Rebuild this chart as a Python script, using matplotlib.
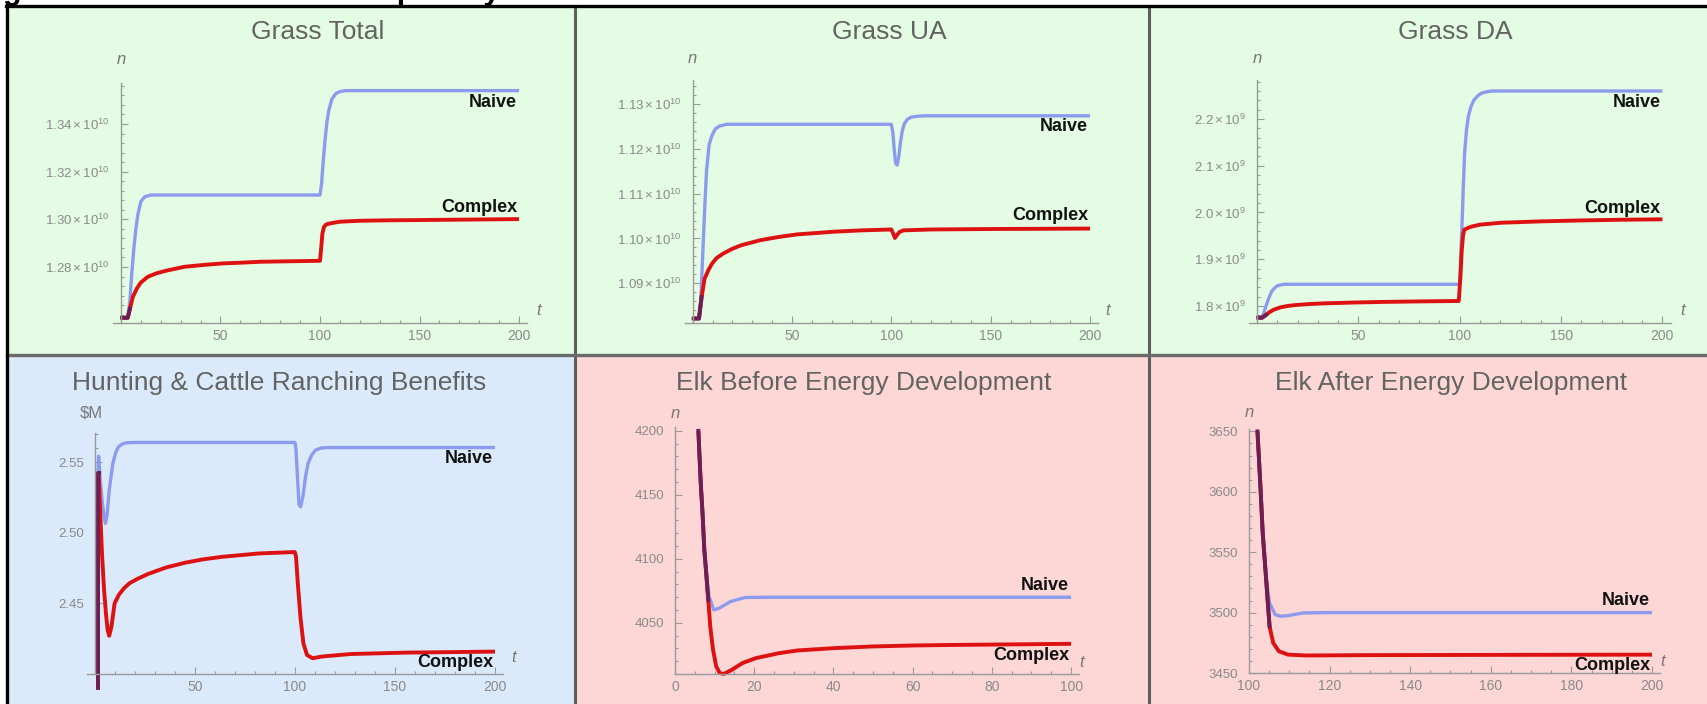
import matplotlib.pyplot as plt
from matplotlib.lines import Line2D
from matplotlib.patches import Rectangle
from matplotlib.ticker import FixedLocator, MultipleLocator, FuncFormatter

plt.rcParams['font.family'] = ['Liberation Sans', 'DejaVu Sans']
plt.rcParams['mathtext.fontset'] = 'custom'
plt.rcParams['mathtext.rm'] = 'Liberation Sans'
plt.rcParams['mathtext.it'] = 'Liberation Sans:italic'

W, H = 1707, 704

# ---------------- data ----------------
titles = ['Grass Total', 'Grass UA', 'Grass DA',
          'Hunting & Cattle Ranching Benefits',
          'Elk Before Energy Development', 'Elk After Energy Development']

# Grass Total, units of 1e10
total_shared_t = [0.5, 3.4]
total_shared_v = [1.2587, 1.2587]
total_naive_t = [4.5, 5.5, 6.5, 7.5, 8.5, 10, 12, 15, 100, 100.8, 101.5, 102.5, 103.5,
                 104.5, 106, 108, 110, 113, 200]
total_naive_v = [1.266, 1.278, 1.288, 1.296, 1.302, 1.3075, 1.3095, 1.3102, 1.3102, 1.315,
                 1.323, 1.333, 1.341, 1.346, 1.3505, 1.3528, 1.3536, 1.354, 1.354]
total_complex_t = [4.5, 6, 8, 10, 13.5, 18, 23, 32, 42, 51, 60, 70, 85, 100, 100.6, 101.2,
                   102, 103, 105, 110, 120, 135, 150, 175, 200]
total_complex_v = [1.2625, 1.2675, 1.2710, 1.2735, 1.2759, 1.2774, 1.2785, 1.2801, 1.2809,
                   1.2815, 1.2818, 1.2822, 1.2824, 1.2826, 1.2880, 1.2940, 1.2968, 1.2978,
                   1.2983, 1.2990, 1.2994, 1.2996, 1.2997, 1.2999, 1.3001]

# Grass UA, units of 1e10
ua_shared_t = [0.5, 3.2]
ua_shared_v = [1.0821, 1.0821]
ua_naive_t = [4.2, 5.1, 6, 7, 8.3, 9.8, 11.5, 13.5, 17, 100, 100.8, 101.5, 102.2, 103, 103.8,
              104.6, 105.5, 106.5, 108, 110, 113, 117, 200]
ua_naive_v = [1.0870, 1.0967, 1.1060, 1.1152, 1.1210, 1.1231, 1.1245, 1.1251, 1.1255, 1.1255,
              1.1235, 1.1195, 1.1168, 1.1164, 1.1185, 1.1215, 1.1240, 1.1256, 1.1266, 1.1271,
              1.1273, 1.1274, 1.1274]
ua_complex_t = [4.5, 6, 8, 9.8, 12, 15.3, 20, 24.6, 34, 43, 52.5, 62, 71, 85, 100, 101, 101.8,
                102.6, 104, 106, 120, 150, 200]
ua_complex_v = [1.0869, 1.0910, 1.0930, 1.0944, 1.0956, 1.0966, 1.0977, 1.0985, 1.0996, 1.1003,
                1.1009, 1.1012, 1.1015, 1.1018, 1.1020, 1.1010, 1.1001, 1.1006, 1.1014, 1.1018,
                1.1020, 1.1021, 1.1022]

# Grass DA, units of 1e9
da_shared_t = [0.5, 2.5]
da_shared_v = [1.775, 1.775]
da_naive_t = [4.3, 5.7, 7.1, 8.5, 9.8, 11.5, 13.4, 100, 100.5, 101.2, 101.8, 102.4, 103.3,
              104.2, 105.5, 107, 109, 110.6, 113, 116, 200]
da_naive_v = [1.7986, 1.816, 1.8306, 1.838, 1.8428, 1.845, 1.8464, 1.8464, 1.91, 1.984, 2.06,
              2.127, 2.175, 2.205, 2.226, 2.2406, 2.250, 2.255, 2.258, 2.2599, 2.2599]
da_complex_t = [4.3, 6, 7.9, 9.8, 11.6, 15, 18.9, 26, 33.5, 47, 60.8, 80, 99.5, 100.3, 101,
                101.6, 102.2, 104, 106, 110, 120, 140, 160, 180, 200]
da_complex_v = [1.7807, 1.7865, 1.7914, 1.7945, 1.7971, 1.8000, 1.8020, 1.8042, 1.8057, 1.8073,
                1.8086, 1.8098, 1.8107, 1.86, 1.92, 1.95, 1.963, 1.967, 1.970, 1.974, 1.978,
                1.981, 1.983, 1.9845, 1.9854]

# Hunting & cattle ranching benefits, $M
hunt_shared_t = [1.5, 1.5]
hunt_shared_v = [2.390, 2.542]
hunt_naive_t = [1.8, 2.5, 3.5, 4.5, 5.2, 6, 7.1, 8.9, 10.3, 11.7, 13.5, 15.4, 20, 100, 100.5,
                101.2, 102, 102.8, 104, 105.2, 106.5, 108.3, 110.2, 113, 116, 200]
hunt_naive_v = [2.5543, 2.5400, 2.5230, 2.5120, 2.5065, 2.5120, 2.5300, 2.5490, 2.5565, 2.5609,
                2.5628, 2.5637, 2.5640, 2.5640, 2.5590, 2.5400, 2.5200, 2.5183, 2.5260, 2.5390,
                2.5490, 2.5550, 2.5585, 2.5600, 2.5604, 2.5604]
hunt_complex_t = [1.8, 2.6, 3.5, 4.5, 5.5, 6.3, 7.1, 8.2, 9.8, 12, 14.5, 17.2, 21, 26.5, 35.7,
                  45, 54, 63.5, 82, 99.9, 100.5, 101.4, 102.7, 104.2, 106, 108.8, 113.4, 128,
                  156, 200]
hunt_complex_v = [2.5420, 2.5150, 2.4850, 2.4600, 2.4420, 2.4310, 2.4267, 2.4330, 2.4498,
                  2.4560, 2.4605, 2.4640, 2.4670, 2.4706, 2.4753, 2.4786, 2.4810, 2.4828,
                  2.4852, 2.4862, 2.4830, 2.4640, 2.4403, 2.4214, 2.4131, 2.4108, 2.4120,
                  2.4138, 2.4148, 2.4155]

# Elk before energy development
elkb_shared_t = [5.9, 6.5, 7.0, 7.4, 7.8]
elkb_shared_v = [4200, 4159, 4133, 4107, 4092]
elkb_naive_t = [8.6, 9.8, 11.2, 14.0, 17.7, 25, 40, 60, 80, 100]
elkb_naive_v = [4070.5, 4060, 4061.5, 4066.6, 4069.8, 4070, 4070, 4070, 4070, 4070]
elkb_complex_t = [8.4, 8.9, 9.6, 10.4, 11.3, 12.3, 14.2, 17.0, 20.4, 26.3, 31, 40.1, 49.7, 60.2,
                  70, 80.2, 90, 100]
elkb_complex_v = [4068, 4047, 4029, 4016, 4010.7, 4010, 4013, 4018.5, 4022.4, 4026.3, 4028.4,
                  4030.2, 4031.5, 4032.3, 4032.7, 4033, 4033.3, 4033.6]

# Elk after energy development
elka_shared_t = [102.1, 102.8, 103.4, 104.2]
elka_shared_v = [3650, 3607, 3566, 3530]
elka_naive_t = [105.1, 106.5, 107.8, 109.7, 113.4, 119, 140, 200]
elka_naive_v = [3508, 3498.3, 3497, 3497.5, 3499.7, 3500, 3500, 3500]
elka_complex_t = [105.1, 106, 107.4, 109.7, 114.3, 130, 160, 200]
elka_complex_v = [3488.7, 3475, 3468, 3465.2, 3464.5, 3464.8, 3465, 3465.2]

# tick values
t_ticks_200 = [50, 100, 150, 200]
t_ticks_before = [0, 20, 40, 60, 80, 100]
t_ticks_after = [100, 120, 140, 160, 180, 200]
total_yticks = [1.28, 1.30, 1.32, 1.34]
ua_yticks = [1.09, 1.10, 1.11, 1.12, 1.13]
da_yticks = [1.8, 1.9, 2.0, 2.1, 2.2]
hunt_yticks = [2.45, 2.50, 2.55]
elkb_yticks = [4050, 4100, 4150, 4200]
elka_yticks = [3450, 3500, 3550, 3600, 3650]

# ---------------- styling ----------------
GREEN, BLUE, PINK = '#e3fce3', '#dbeafb', '#fdd6d6'
NAIVE_C, COMPLEX_C, SHARED_C = '#8d9bee', '#dd1111', '#6b1f55'
AXIS_C, TICKLBL_C, TITLE_C = '#9a9a9a', '#8a8a8a', '#636363'


def fbox(x0, y0, x1, y1):
    return [x0 / W, 1 - y1 / H, (x1 - x0) / W, (y1 - y0) / H]


fig = plt.figure(figsize=(W / 100, H / 100), dpi=100)

# panel backgrounds
for (x0, y0, x1, y1), c in [((7, 6, 575, 355), GREEN), ((575, 6, 1149, 355), GREEN),
                            ((1149, 6, 1707, 355), GREEN), ((7, 355, 575, 704), BLUE),
                            ((575, 355, 1149, 704), PINK), ((1149, 355, 1707, 704), PINK)]:
    fig.patches.append(Rectangle((x0 / W, 1 - y1 / H), (x1 - x0) / W, (y1 - y0) / H,
                                 transform=fig.transFigure, color=c, zorder=-5))

# dividers and frame
for xs, ys, c, lw in [((575, 575), (6, 704), '#5e5e5e', 2.2), ((1149, 1149), (6, 704), '#5e5e5e', 2.2),
                      ((7, 1707), (355, 355), '#6a6a6a', 2.4),
                      ((7, 7), (5, 704), 'black', 2.4), ((6, 1707), (6, 6), 'black', 2.4)]:
    fig.add_artist(Line2D([x / W for x in xs], [1 - y / H for y in ys], color=c, lw=lw, zorder=-4))

# cropped heading line at the very top (only descenders visible)
fig.text(-24 / W, 1 + 1.5 / H, 'Figure 4. Results for the complex system and naive model',
         fontsize=22, fontweight='bold', color='black', va='baseline', ha='left')


def sci(exp, dec):
    return FuncFormatter(lambda v, p: rf'${v:.{dec}f}\times10^{{{exp}}}$')


panels = [
    dict(box=(113, 83, 527, 323), xlim=(-4, 204), ylim=(1.2565, 1.3572), y0=0,
         xt=t_ticks_200, xm=10, yt=total_yticks, ym=0.004, fmt=sci(10, 2),
         data=(total_shared_t, total_shared_v, total_naive_t, total_naive_v,
               total_complex_t, total_complex_v),
         title=(318, 32), ylab=('n', 0, 24), tlab=(12, 5), nlab=-12, clab=12),
    dict(box=(684.7, 80, 1098, 323), xlim=(-4, 204), ylim=(1.0811, 1.1354), y0=0,
         xt=t_ticks_200, xm=10, yt=ua_yticks, ym=0.002, fmt=sci(10, 2),
         data=(ua_shared_t, ua_shared_v, ua_naive_t, ua_naive_v, ua_complex_t, ua_complex_v),
         title=(889, 32), ylab=('n', 0, 21), tlab=(10, 5), nlab=-11, clab=13),
    dict(box=(1249, 80, 1670.5, 323), xlim=(-4, 204), ylim=(1.7636, 2.2834), y0=0,
         xt=t_ticks_200, xm=10, yt=da_yticks, ym=0.02, fmt=sci(9, 1),
         data=(da_shared_t, da_shared_v, da_naive_t, da_naive_v, da_complex_t, da_complex_v),
         title=(1455, 32), ylab=('n', 0, 21), tlab=(12, 5), nlab=-12, clab=11),
    dict(box=(87, 432.6, 503, 674), xlim=(-4, 204), ylim=(2.3996, 2.571), y0=0,
         xt=t_ticks_200, xm=10, yt=hunt_yticks, ym=0.01,
         fmt=FuncFormatter(lambda v, p: f'{v:.2f}'),
         data=(hunt_shared_t, hunt_shared_v, hunt_naive_t, hunt_naive_v,
               hunt_complex_t, hunt_complex_v),
         title=(279, 383), ylab=('$M', -2, 20), tlab=(11, 9), nlab=-11, clab=-11),
    dict(box=(675, 427, 1079, 674), xlim=(0, 102), ylim=(4010, 4203), y0=0,
         xt=t_ticks_before, xm=5, yt=elkb_yticks, ym=10,
         fmt=FuncFormatter(lambda v, p: f'{v:.0f}'),
         data=(elkb_shared_t, elkb_shared_v, elkb_naive_t, elkb_naive_v,
               elkb_complex_t, elkb_complex_v),
         title=(864, 383), ylab=('n', 0, 14), tlab=(3, 4), nlab=12, clab=-12),
    dict(box=(1249, 429, 1660, 673), xlim=(100, 202), ylim=(3450, 3652), y0=100,
         xt=t_ticks_after, xm=5, yt=elka_yticks, ym=10,
         fmt=FuncFormatter(lambda v, p: f'{v:.0f}'),
         data=(elka_shared_t, elka_shared_v, elka_naive_t, elka_naive_v,
               elka_complex_t, elka_complex_v),
         title=(1451, 383), ylab=('n', 0, 16), tlab=(3, 4), nlab=12, clab=-11),
]

for p, title in zip(panels, titles):
    ax = fig.add_axes(fbox(*p['box']))
    ax.patch.set_visible(False)
    ax.set_xlim(*p['xlim'])
    ax.set_ylim(*p['ylim'])
    for s in ('top', 'right'):
        ax.spines[s].set_visible(False)
    ax.spines['left'].set_position(('data', p['y0']))
    for s in ('left', 'bottom'):
        ax.spines[s].set_color(AXIS_C)
        ax.spines[s].set_linewidth(1.0)
    ax.xaxis.set_major_locator(FixedLocator(p['xt']))
    ax.xaxis.set_minor_locator(MultipleLocator(p['xm']))
    ax.yaxis.set_major_locator(FixedLocator(p['yt']))
    ax.yaxis.set_minor_locator(MultipleLocator(p['ym']))
    ax.yaxis.set_major_formatter(p['fmt'])
    ax.tick_params(which='both', direction='in', color=AXIS_C, labelcolor=TICKLBL_C, width=0.8)
    ax.tick_params(which='major', length=5)
    ax.tick_params(which='minor', length=2.5)
    ax.tick_params(axis='x', labelsize=10, pad=4)
    ax.tick_params(axis='y', labelsize=9.5, pad=8)

    st, sv, nt, nv, ct, cv = p['data']
    ax.plot(st + nt, sv + nv, color=NAIVE_C, lw=2.4, clip_on=False, solid_capstyle='butt')
    ax.plot(st + ct, sv + cv, color=COMPLEX_C, lw=2.8, clip_on=False, solid_capstyle='butt')
    ax.plot(st + ct[:1], sv + cv[:1], color=SHARED_C, lw=2.8, clip_on=False)

    ax.annotate('Naive', xy=(nt[-1], nv[-1]), xytext=(-2, p['nlab']), textcoords='offset pixels',
                ha='right', va='center', fontsize=13, fontweight='bold', color='#111111')
    ax.annotate('Complex', xy=(ct[-1], cv[-1]), xytext=(-2, p['clab']), textcoords='offset pixels',
                ha='right', va='center', fontsize=13, fontweight='bold', color='#111111')

    lab, dx, dy = p['ylab']
    if lab == '$M':
        ax.annotate(r'\$M', xy=(p['y0'], 1), xycoords=('data', 'axes fraction'),
                    xytext=(-15, dy), textcoords='offset pixels', ha='left', va='center',
                    fontsize=12, color='#777777')
    else:
        ax.annotate(lab, xy=(p['y0'], 1), xycoords=('data', 'axes fraction'),
                    xytext=(dx, dy), textcoords='offset pixels', ha='center', va='center',
                    fontsize=12, style='italic', color='#777777')
    ax.annotate('t', xy=(1, 0), xycoords='axes fraction', xytext=p['tlab'],
                textcoords='offset pixels', ha='center', va='bottom', fontsize=12,
                style='italic', color='#777777')

    tx, ty = p['title']
    fig.text(tx / W, 1 - ty / H, title, ha='center', va='center', fontsize=19, color=TITLE_C)

fig.savefig('out.png', dpi=100)
